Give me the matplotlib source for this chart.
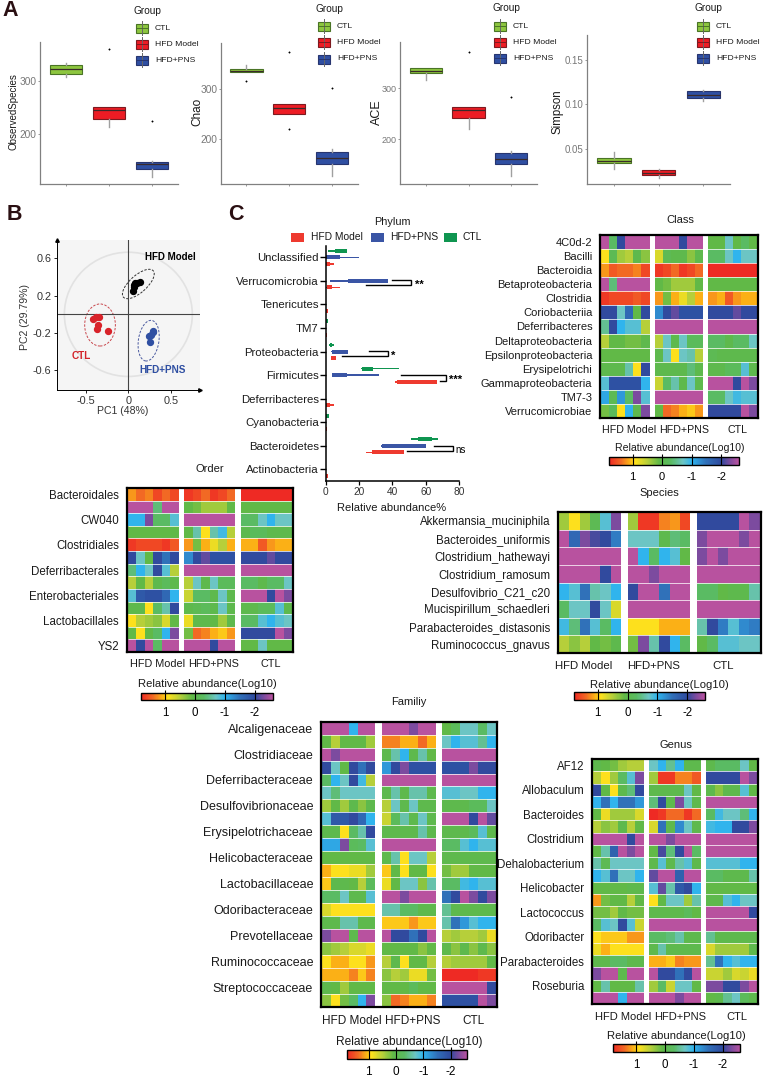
import numpy as np
import matplotlib
matplotlib.use('Agg')
import matplotlib.pyplot as plt
from matplotlib.cm import ScalarMappable
from matplotlib.colors import LinearSegmentedColormap, Normalize
from matplotlib.patches import Ellipse, Rectangle

plt.rcParams['font.family'] = ['Liberation Sans', 'DejaVu Sans']
plt.rcParams['axes.unicode_minus'] = False

W, H = 765, 1080
groups = ['CTL', 'HFD Model', 'HFD+PNS']

# Panel A: box statistics, order CTL / HFD Model / HFD+PNS
obs_q1 = [312, 229, 135]
obs_med = [321, 245, 145]
obs_q3 = [329, 251, 148]
obs_lo = [306, 214, 120]
obs_hi = [332, 251, 150]
obs_out = [[], [359], [224]]

chao_q1 = [332, 251, 151]
chao_med = [335, 261, 163]
chao_q3 = [338, 269, 176]
chao_lo = [332, 251, 128]
chao_hi = [346, 269, 181]
chao_out = [[315], [372, 220], [302]]

ace_q1 = [330, 241, 151]
ace_med = [335, 257, 161]
ace_q3 = [340, 263, 173]
ace_lo = [317, 221, 127]
ace_hi = [340, 263, 176]
ace_out = [[], [372], [282]]

simp_q1 = [0.0344, 0.021, 0.1076]
simp_med = [0.0374, 0.024, 0.111]
simp_q3 = [0.0407, 0.027, 0.1147]
simp_lo = [0.0284, 0.0184, 0.1035]
simp_hi = [0.0474, 0.0284, 0.1165]
simp_out = [[], [], []]

# Panel B: PCA scores
pc_model_x = [0.05, 0.07, 0.08, 0.137, 0.098, 0.066]
pc_model_y = [0.254, 0.289, 0.332, 0.343, 0.332, 0.314]
pc_ctl_x = [-0.41, -0.34, -0.38, -0.35, -0.37, -0.234]
pc_ctl_y = [-0.05, -0.025, -0.032, -0.114, -0.16, -0.18]
pc_pns_x = [0.285, 0.262, 0.242, 0.25, 0.293]
pc_pns_y = [-0.186, -0.221, -0.232, -0.30, -0.175]

# Panel C: phylum ranges (min, max, dense part min, dense part max)
phyla = ['Unclassified', 'Verrucomicrobia', 'Tenericutes', 'TM7', 'Proteobacteria',
         'Firmicutes', 'Deferribacteres', 'Cyanobacteria', 'Bacteroidetes', 'Actinobacteria']
phy_ctl = [(1.2, 13, 5.6, 13), (0, 0.2, 0, 0.2), (0, 0.2, 0, 0.2), (0, 1.2, 0, 1.2), (2, 5, 2.4, 4),
           (21, 43.8, 21.6, 28.6), (0, 0.2, 0, 0.2), (0, 2.2, 0, 2.2), (51.2, 67.2, 55.6, 63.6), (0, 0.2, 0, 0.2)]
phy_pns = [(0, 20, 0, 8.6), (2.6, 37.6, 13.6, 37.6), (0, 0.2, 0, 0.2), (0, 0.2, 0, 0.2), (3.2, 13.2, 3.6, 13.2),
           (3.6, 32.2, 4, 12.6), (0, 0.2, 0, 0.2), (0, 0.2, 0, 0.2), (33.2, 60.4, 33.6, 60.4), (0, 0.2, 0, 0.2)]
phy_model = [(0, 5, 0, 2.6), (0, 8.4, 0.6, 3.6), (0, 1.2, 0, 1.2), (0, 1, 0, 1), (3, 6.2, 3.2, 6),
             (41.8, 66.8, 42.6, 66.6), (0, 5.2, 0, 2.6), (0, 1, 0, 1), (24, 47.2, 27.6, 47.2), (0, 1.2, 0, 1.2)]

# Heatmaps: log10 relative abundance x10, 6 samples per group
class_labels = ['4C0d-2', 'Bacilli', 'Bacteroidia', 'Betaproteobacteria', 'Clostridia', 'Coriobacteriia',
                'Deferribacteres', 'Deltaproteobacteria', 'Epsilonproteobacteria', 'Erysipelotrichi',
                'Gammaproteobacteria', 'TM7-3', 'Verrucomicrobiae']
class_vals = [
    [-26, -3, -20, -26, -26, -26, -26, -26, -26, -20, -26, -26, 1, 1, -7, 1, -3, 1],
    [9, -1, 4, 5, 0, 3, 7, -1, 0, 0, 3, 0, -3, -3, -7, -10, -7, -7],
    [12, 15, 14, 14, 13, 16, 17, 16, 14, 17, 16, 14, 18, 18, 18, 18, 18, 18],
    [-26, -4, -26, -26, -26, -26, 1, 2, 4, 4, 4, 1, 1, 1, 1, 1, 1, 1],
    [17, 16, 16, 16, 15, 16, 12, 2, 11, 8, 5, 11, 12, 11, 15, 12, 11, 11],
    [-20, -20, -7, -16, 1, -20, -13, -20, -22, -19, -19, -19, -20, -20, -20, -22, -20, -20],
    [-5, -20, -10, -8, -8, 5, -26, -26, -26, -26, -26, -26, -26, -26, -26, -26, -26, -26],
    [5, 1, 1, 2, 2, 0, 5, -7, 0, -7, -2, -2, -3, -3, 0, -3, -3, -7],
    [1, 1, 1, 1, 1, 1, 0, -7, 9, -7, -6, 5, -1, 0, 0, 0, 0, 0],
    [0, 0, 0, -6, 9, -20, 0, 0, 0, 0, -4, 0, 0, 0, -2, -2, -8, 0],
    [-8, -19, -19, -19, -19, -10, 6, -3, -6, 0, -7, 0, -26, -26, -26, -20, -26, -23],
    [-11, -1, -12, -3, -23, -8, -26, -26, -26, -26, -26, -26, -3, -3, -7, -9, -8, -8],
    [2, -2, 9, -10, 0, -23, 1, 14, 13, 11, 10, 12, -20, -20, -20, -20, -26, -23],
]

order_labels = ['Bacteroidales', 'CW040', 'Clostridiales', 'Deferribacterales',
                'Enterobacteriales', 'Lactobacillales', 'YS2']
order_vals = [
    [12, 14, 13, 16, 14, 16, 17, 16, 14, 17, 16, 14, 18, 18, 18, 18, 18, 18],
    [-26, -26, -26, -4, -26, -26, 1, 2, 4, 4, 4, 1, 1, 1, 1, 1, 1, 1],
    [-10, -10, -23, -3, -3, -8, -26, -26, -26, -26, -26, -26, -3, -3, -7, -10, -7, -7],
    [1, 1, 1, 1, 1, 1, 1, -6, 9, -6, -9, 5, 0, -2, -2, 0, 0, 0],
    [17, 16, 16, 16, 17, 15, 12, 2, 11, 8, 5, 11, 11, 11, 15, 12, 11, 11],
    [-20, -7, 1, -20, -15, -20, -13, -20, -22, -19, -19, -19, -20, -20, -20, -22, -20, -20],
    [-4, -10, -7, -20, -8, 5, -26, -26, -26, -26, -26, -26, -26, -26, -26, -26, -26, -26],
    [5, 1, 5, 0, -2, 0, 5, -7, 0, -7, -2, -2, -3, -3, 0, -3, -3, -7],
    [-8, -18, -19, -19, -16, -10, 6, -3, -3, 0, -7, 0, -26, -26, -26, -20, -26, -23],
    [0, 0, 9, -3, -6, -20, 0, -1, -2, 0, -7, 0, 0, 0, -2, -2, -8, 0],
    [9, 5, 4, 3, 7, 1, 8, 0, 0, 1, 4, 0, -3, -3, -8, -10, -8, -7],
    [1, 9, 1, -3, -10, -23, 2, 14, 13, 11, 10, 12, -20, -20, -20, -20, -26, -23],
    [-26, -20, -26, -3, -26, -26, -26, -26, -26, -20, -26, -26, 1, 1, -7, 1, 1, 1],
]

species_labels = ['Akkermansia_muciniphila', 'Bacteroides_uniformis', 'Clostridium_hathewayi', 'Clostridium_ramosum',
                  'Desulfovibrio_C21_c20', 'Mucispirillum_schaedleri', 'Parabacteroides_distasonis',
                  'Ruminococcus_gnavus']
species_vals = [
    [4, 9, 4, -1, -8, -23, 4, 17, 17, 13, 12, 16, -20, -20, -20, -20, -26, -23],
    [-26, -16, -23, -21, -20, -14, -7, -7, -7, 0, -4, -3, -23, -26, -26, -26, -23, -26],
    [-26, -26, -26, -26, -26, -26, -26, -10, -3, -10, -8, 1, -23, -26, -23, -26, -26, -26],
    [-26, -26, -26, -26, -20, -26, -26, -26, -23, -26, -26, -26, -26, -26, -26, -26, -26, -26],
    [-10, -8, -15, -6, -7, -10, -20, -26, -26, -15, -26, -26, -3, -3, 1, 0, 0, -6],
    [-3, -7, -7, -20, -7, 7, -26, -26, -26, -26, -26, -26, -26, -26, -26, -26, -26, -26],
    [-9, -4, -15, -8, -3, -10, 9, 9, 9, 11, 11, 11, -6, -20, -14, -8, -13, -14],
    [5, 3, 5, 1, 2, 0, 2, -23, -6, -20, -10, -3, 1, -3, -8, -8, -7, -7],
]

family_labels = ['Alcaligenaceae', 'Clostridiaceae', 'Deferribacteraceae', 'Desulfovibrionaceae', 'Erysipelotrichaceae',
                 'Helicobacteraceae', 'Lactobacillaceae', 'Odoribacteraceae', 'Prevotellaceae', 'Ruminococcaceae',
                 'Streptococcaceae']
family_vals = [
    [-26, -26, -26, -10, -26, -26, -26, -26, -26, -23, -26, -26, 1, -2, -7, -7, -3, -7],
    [1, 5, 1, 1, 1, 4, 13, 13, 11, 11, 14, 11, -7, -10, -8, -8, -5, -10],
    [-26, -23, -26, -26, -26, -26, 0, -6, -10, 0, -6, 1, -26, -26, -26, -26, -26, -26],
    [-20, -7, 1, -20, -15, -20, -12, -20, -23, -19, -19, -19, -19, -19, -19, -23, -20, -20],
    [-3, -10, -7, -20, -9, 5, -26, -26, -26, -26, -26, -26, -26, -26, -26, -26, -26, -26],
    [-7, -4, -7, -7, -7, -7, 0, -6, 0, -6, -6, 0, -8, -8, -7, -7, -10, -10],
    [4, 1, 4, 0, 3, 0, 5, -7, 0, -7, 0, 0, 0, 0, 0, -2, -2, -7],
    [-8, -18, -18, -20, -16, -10, 6, -2, -6, 0, -7, 0, -26, -26, -26, -20, -26, -22],
    [0, 0, 9, -3, -6, -20, 0, 0, 0, 0, -6, 0, 0, 0, 0, -2, -8, 0],
    [-11, -11, -23, -2, -3, -8, -26, -26, -26, -26, -26, -26, -3, -3, -8, -10, -8, -8],
    [1, 1, 1, 1, 1, 1, 0, -6, 9, -7, -7, 5, 0, 0, 0, 0, 0, 0],
    [11, 9, 9, 8, 8, 4, 10, 1, 9, 1, 1, 9, 2, 4, 4, 1, 1, 1],
    [10, 0, 0, 1, 5, -2, 8, 1, -7, -7, 3, -6, -3, -3, -9, -10, -8, -8],
    [-3, -3, -7, 0, 0, -8, -26, -26, -23, -26, -26, -26, -15, -20, -26, -23, -20, -23],
    [7, 9, 9, 9, 9, 9, -6, -6, -3, -3, 0, 0, -5, 0, 0, 0, 0, 0],
    [0, 0, -6, -6, 0, 0, 10, 10, 10, 12, 10, 10, -6, -15, -12, -8, -10, -10],
    [-23, -26, -26, 0, -26, -26, -26, -20, -20, -15, -20, -26, 5, 4, 5, 5, 4, 8],
    [3, 4, 5, 7, 7, 8, 1, 1, 1, 1, 3, 1, 0, 3, 0, 3, 0, 3],
    [9, 11, 11, 9, 9, 12, 5, 0, 9, 1, 1, 5, 5, 4, 4, 4, 4, 1],
    [11, 11, 11, 13, 10, 13, 3, 5, 4, 8, 8, 2, 18, 18, 18, 18, 17, 17],
    [0, 1, 4, 1, 1, 1, 1, 1, 1, -2, 1, 1, -26, -26, -26, -26, -26, -20],
    [3, 9, 2, -3, -10, -23, 3, 14, 13, 11, 11, 13, -19, -19, -19, -19, -26, -23],
]

genus_labels = ['AF12', 'Allobaculum', 'Bacteroides', 'Clostridium', 'Dehalobacterium', 'Helicobacter',
                'Lactococcus', 'Odoribacter', 'Parabacteroides', 'Roseburia']
genus_vals = [
    [0, 1, 2, 4, 5, 5, -7, -10, -5, -10, 0, 0, 0, -3, -3, -3, -7, 1],
    [5, 9, 4, -3, -8, -23, 4, 17, 17, 13, 13, 15, -20, -20, -20, -20, -26, -23],
    [-20, 1, 9, 0, -4, -20, 0, 0, 0, 0, -7, 1, 0, 3, 0, 0, -8, 1],
    [-10, -15, -10, -15, -15, -12, -4, -20, 0, -23, -7, 0, -26, -26, -26, -26, -26, -26],
    [1, 8, 4, 4, 4, 7, 18, 17, 14, 14, 17, 14, -3, -9, -7, -7, -4, -10],
    [5, 3, 4, 0, 5, 1, 7, -15, 0, -13, -7, 0, -9, -10, -10, -20, -20, -23],
    [-26, -26, -26, -26, -20, -26, -26, -26, -23, -26, -26, -26, -26, -26, -26, -26, -26, -26],
    [1, -6, -17, -26, -23, -26, 1, -21, -4, -20, -26, -3, -26, -26, -26, -26, -26, -26],
    [-6, -1, -7, -7, -7, -7, 0, -8, 0, -6, -8, 0, -8, -8, -8, -8, -10, -10],
    [-10, -8, -15, -7, -7, -10, -22, -26, -26, -17, -26, -26, -3, -3, 0, 0, 0, -6],
    [1, 1, 1, 1, 0, 0, -8, -22, -6, -18, -20, -10, 1, 1, 1, 1, 1, 1],
    [12, 2, 1, 1, 5, 1, 9, 1, -7, -7, 4, -6, 0, 0, -8, -10, -7, -7],
    [2, 2, 4, 1, 2, 2, 0, 0, 0, 0, -2, 1, -26, -26, -26, -26, -26, -20],
    [-3, -8, -7, -20, -8, 6, -26, -26, -26, -26, -26, -26, -26, -26, -26, -26, -26, -26],
    [9, 10, 10, 10, 12, 12, -3, -3, -4, -6, 0, 0, -5, 0, 0, 0, 0, 0],
    [8, 11, 9, 9, 9, 9, 0, -6, 0, 0, 0, 0, 7, 4, 4, 4, 4, 0],
    [0, 0, -3, -3, 0, 0, 11, 11, 10, 13, 12, 12, -5, -15, -10, -8, -10, -10],
    [-23, -26, -26, 0, -26, -26, -26, -20, -20, -15, -20, -26, 6, 6, 4, 7, 6, 8],
    [1, -6, 1, 1, 1, -6, 4, -3, 6, -7, -7, 1, -23, -23, -20, -20, -23, -26],
    [-26, -26, -26, -10, -26, -26, -26, -26, -26, -23, -26, -26, 1, 0, -5, -7, -2, 0],
]

# colour scale
cmap_vals = [-2.6, -2.3, -2.0, -1.5, -1.0, -0.7, -0.3, 0.1, 0.5, 0.9, 1.1, 1.4, 1.8]
cmap_cols = ['#b8529f', '#7b4b9f', '#2e4a9e', '#3070b9', '#2fb4ee', '#6cc5c4', '#5abb62',
             '#5fb947', '#b5cf3a', '#fde11d', '#fbb216', '#f26a24', '#ee2a24']
norm = Normalize(-2.6, 1.8)
heat_cmap = LinearSegmentedColormap.from_list(
    'abund', [((v + 2.6) / 4.4, c) for v, c in zip(cmap_vals, cmap_cols)])

fig = plt.figure(figsize=(W / 100, H / 100), dpi=100, facecolor='white')


def px_axes(x0, y0, x1, y1):
    return fig.add_axes([x0 / W, 1 - y1 / H, (x1 - x0) / W, (y1 - y0) / H])


# overlay in pixel coordinates for free text and keys
ov = fig.add_axes([0, 0, 1, 1], zorder=10)
ov.set_xlim(0, W)
ov.set_ylim(H, 0)
ov.axis('off')
ov.patch.set_alpha(0)


def label(x, y, s, size=8, **kw):
    kw.setdefault('ha', 'center')
    kw.setdefault('color', '#1a1a1a')
    ov.text(x, y, s, fontsize=size, va='center', **kw)


for x, y, s in [(10, 11, 'A'), (14, 214, 'B'), (236, 214, 'C')]:
    ov.text(x, y, s, fontsize=15.5, fontweight='bold', ha='center', va='center', color='#2a0f12')

# ---- Panel A
box_cols = ['#8dc63f', '#ed1c24', '#2f4fa2']
box_edge = ['#4a7426', '#7d1a20', '#27356f']


def box_panel(rect, q1, med, q3, lo, hi, out, ylim, ticks, ticklabels, ylab, lab_x, lab_size, tick_size):
    ax = px_axes(*rect)
    stats = []
    for i in range(3):
        stats.append({'q1': q1[i], 'med': med[i], 'q3': q3[i], 'whislo': lo[i], 'whishi': hi[i],
                      'fliers': out[i], 'label': groups[i]})
    res = ax.bxp(stats, positions=[1, 2, 3], widths=0.75, patch_artist=True, showcaps=False,
                 whiskerprops={'color': '#a0a0a0', 'lw': 1},
                 medianprops={'color': '#3a2a2a', 'lw': 0.9},
                 flierprops={'marker': 'o', 'ms': 1, 'mfc': 'k', 'mec': 'k', 'mew': 0.3})
    for b, c, e in zip(res['boxes'], box_cols, box_edge):
        b.set_facecolor(c)
        b.set_edgecolor(e)
        b.set_linewidth(0.8)
    ax.set_xlim(0.4, 3.6)
    ax.set_ylim(*ylim)
    ax.set_xticks([1, 2, 3], ['', '', ''])
    ax.set_yticks(ticks, ticklabels)
    ax.tick_params(axis='both', length=1.5, width=0.6, color='#888888')
    ax.tick_params(axis='y', labelsize=tick_size, labelcolor='#777777', pad=1)
    for s in ['top', 'right']:
        ax.spines[s].set_visible(False)
    for s in ['left', 'bottom']:
        ax.spines[s].set_color('#808080')
        ax.spines[s].set_linewidth(0.9)
    label(lab_x, 112, ylab, lab_size, rotation=90)


box_panel((40, 42, 178, 184), obs_q1, obs_med, obs_q3, obs_lo, obs_hi, obs_out,
          (107, 372), [200, 300], ['200', '300'], 'ObservedSpecies', 14, 7, 7.3)
box_panel((220.7, 43, 358, 184), chao_q1, chao_med, chao_q3, chao_lo, chao_hi, chao_out,
          (112, 390), [200, 300], ['200', '300'], 'Chao', 197, 8.5, 7.3)
box_panel((400, 42, 537, 184), ace_q1, ace_med, ace_q3, ace_lo, ace_hi, ace_out,
          (112, 391), [200, 300], ['200', '300'], 'ACE', 377, 9, 6.5)
box_panel((587.3, 35, 730, 184), simp_q1, simp_med, simp_q3, simp_lo, simp_hi, simp_out,
          (0.0112, 0.1775), [0.05, 0.10, 0.15], ['0.05', '0.10', '0.15'], 'Simpson', 558, 8.3, 7)

# legends of panel A
for gx, gy, kx, tx, rows in [(134, 11, 136, 155, [28, 44, 60]), (316, 9, 318, 337, [26, 42, 59]),
                             (493, 8, 494, 513, [26, 42, 58]), (695, 8, 697, 716, [26, 42, 58])]:
    label(gx, gy, 'Group', 7.3, ha='left')
    for yy, name, c, e in zip(rows, groups, box_cols, box_edge):
        ov.plot([kx + 6, kx + 6], [yy - 7, yy + 7], color='#666666', lw=0.7)
        ov.add_patch(Rectangle((kx, yy - 4.5), 12.5, 9, fc=c, ec=e, lw=0.8))
        ov.plot([kx, kx + 12.5], [yy, yy], color=e, lw=0.7)
        label(tx, yy, name, 6.1, ha='left')

# ---- Panel B
ax = px_axes(56.7, 240, 200, 390)
ax.set_facecolor('#f5f5f5')
ax.set_xlim(-0.84, 0.84)
ax.set_ylim(-0.81, 0.796)
ax.add_patch(Ellipse((0, 0), 1.5, 1.33, fc='none', ec='#e2e2e2', lw=1.2))
ax.axhline(0, color='#444444', lw=0.8)
ax.axvline(0, color='#444444', lw=0.8)
ax.add_patch(Ellipse((0.117, 0.325), 0.45, 0.19, angle=38, fc='none', ec='#333333', lw=0.7, ls=(0, (2.5, 1.5))))
ax.add_patch(Ellipse((-0.332, -0.114), 0.36, 0.45, fc='none', ec='#c8474d', lw=0.7, ls=(0, (2.5, 1.5))))
ax.add_patch(Ellipse((0.238, -0.282), 0.24, 0.44, angle=-10, fc='none', ec='#4a5aa0', lw=0.7, ls=(0, (2.5, 1.5))))
ax.scatter(pc_model_x, pc_model_y, s=18, color='black', zorder=3)
ax.scatter(pc_ctl_x, pc_ctl_y, s=18, color='#d8232a', zorder=3)
ax.scatter(pc_pns_x, pc_pns_y, s=18, color='#2f4fa2', zorder=3)
ax.set_xticks([-0.5, 0, 0.5], ['-0.5', '0', '0.5'])
ax.set_yticks([-0.6, -0.2, 0.2, 0.6], ['-0.6', '-0.2', '0.2', '0.6'])
ax.tick_params(labelsize=7.8, length=2, width=0.6, labelcolor='#333333', pad=2)
for s in ['top', 'right']:
    ax.spines[s].set_visible(False)
for s in ['left', 'bottom']:
    ax.spines[s].set_linewidth(0.7)
ax.plot(0, 1, '^k', ms=2.5, transform=ax.transAxes, clip_on=False)
ax.plot(1, 0, '>k', ms=2.5, transform=ax.transAxes, clip_on=False)
label(123, 411, 'PC1 (48%)', 7.6, color='#333333')
label(25, 317, 'PC2 (29.79%)', 7.6, color='#333333', rotation=90)
label(170, 257, 'HFD Model', 7, color='black', fontweight='bold')
label(81, 356, 'CTL', 7.2, color='#d2232a', fontweight='bold')
label(163, 370, 'HFD+PNS', 7.2, color='#2f4fa2', fontweight='bold')

# ---- Panel C
ax = px_axes(325.7, 246, 459, 480.7)
ax.patch.set_alpha(0)
ypos = np.arange(len(phyla))
ax.set_xlim(0, 80)
ax.set_ylim(9 + (827 - 793) / 70.7, (122 - 156) / 70.7)
phy_cols = ['#0f9550', '#3a55a5', '#ee3a2f']
for rows, off, c in zip([phy_ctl, phy_pns, phy_model], [-0.28, 0, 0.28], phy_cols):
    rows = np.array(rows)
    ax.barh(ypos + off, rows[:, 1] - rows[:, 0], left=rows[:, 0], height=0.07, color=c, lw=0)
    ax.barh(ypos + off, rows[:, 3] - rows[:, 2], left=rows[:, 2], height=0.17, color=c, lw=0)
ax.set_yticks(ypos, phyla)
ax.set_xticks([0, 20, 40, 60, 80])
ax.tick_params(axis='y', labelsize=8.2, length=4, width=1, pad=1, labelcolor='#1a1a1a')
ax.tick_params(axis='x', labelsize=7.3, length=3, width=0.9, pad=1.5, labelcolor='#333333')
for s in ['top', 'right']:
    ax.spines[s].set_visible(False)
for s in ['left', 'bottom']:
    ax.spines[s].set_linewidth(1.1)

# significance brackets (x value, category position)
for xs, ys, txt, tx, ty in [
    ([39.5, 51, 51, 24], [0.96, 0.96, 1.19, 1.19], '**', 56, 1.12),
    ([26, 37.5, 37.5, 10], [3.99, 3.99, 4.2, 4.2], '*', 40.5, 4.14),
    ([45, 72.2, 72.2, 68.6], [5.0, 5.0, 5.24, 5.24], '***', 78, 5.15),
    ([65, 76.4, 76.4, 49], [7.99, 7.99, 8.24, 8.24], 'ns', 81, 8.16),
]:
    ax.plot(xs, ys, color='black', lw=1, clip_on=False, solid_joinstyle='miter')
    if txt == 'ns':
        ax.text(tx, ty, txt, fontsize=7, ha='center', va='center', clip_on=False)
    else:
        ax.text(tx, ty + 0.03, txt, fontsize=8, fontweight='bold', ha='center', va='center', clip_on=False)

label(392, 222, 'Phylum', 7.8)
label(392, 508, 'Relative abundance%', 8)
for px, tx, c, s in [(291, 311, '#ee3a2f', 'HFD Model'), (371, 390, '#3a55a5', 'HFD+PNS'), (444, 463, '#0f9550', 'CTL')]:
    ov.add_patch(Rectangle((px, 232.5), 13, 9, fc=c, ec='none'))
    label(tx, 237, s, 7.4, ha='left')


# ---- Heatmaps
def heat(rect, vals, labels, step, gap, row_size, title, title_xy, grp_y, grp_x, grp_size,
         bar_rect, bar_title_xy, bar_title_size, tick_size):
    vals = np.array(vals) / 10
    n = len(vals)
    ax = px_axes(*rect)
    yy = np.arange(n + 1)
    for k in range(3):
        xx = np.arange(7) + k * (6 + gap)
        ax.pcolormesh(xx, yy, vals[:, 6 * k:6 * k + 6], cmap=heat_cmap, norm=norm, lw=0)
    ax.hlines(np.arange(1, n), 0, 18 + 2 * gap, color='white', lw=0.7, alpha=0.75)
    ax.set_xlim(-0.1, 18 + 2 * gap + 0.1)
    ax.set_ylim(n, 0)
    ax.set_xticks([])
    ax.set_yticks(np.arange(0, n, step) + 0.5, labels)
    ax.tick_params(axis='y', length=0, labelsize=row_size, pad=5.5, labelcolor='#1a1a1a')
    for s in ax.spines.values():
        s.set_linewidth(1.6)
    label(title_xy[0], title_xy[1], title, 8)
    for x, s in zip(grp_x, ['HFD Model', 'HFD+PNS', 'CTL']):
        label(x, grp_y, s, grp_size)
    cax = px_axes(*bar_rect)
    cb = fig.colorbar(ScalarMappable(norm=norm, cmap=heat_cmap), cax=cax, orientation='horizontal')
    cax.invert_xaxis()
    cb.set_ticks([1, 0, -1, -2], labels=['1', '0', '-1', '-2'])
    cb.ax.tick_params(direction='in', length=bar_rect[3] - bar_rect[1], width=0.8, color='black',
                      labelsize=tick_size, pad=5)
    cb.outline.set_linewidth(1)
    label(bar_title_xy[0], bar_title_xy[1], 'Relative abundance(Log10)', bar_title_size)


heat((600, 235, 758, 418), class_vals, class_labels, 1, 0.62, 8, 'Class', (680, 220), 430, (629, 684, 738), 7.7,
     (609, 457, 739, 465), (680, 448), 7.6, 8)
heat((126.7, 488, 293, 652), order_vals, order_labels, 2, 0.66, 8.3, 'Order', (210, 469), 664, (158, 214, 271), 7.8,
     (141, 693, 273, 700), (207, 684), 8.1, 8.3)
heat((557.7, 512, 760.7, 653), species_vals, species_labels, 1, 0.63, 8.3, 'Species', (659, 493), 666, (584, 654, 723), 8.2,
     (574, 692, 705, 700), (659, 685), 8.1, 8.3)
heat((320.7, 721.7, 496.7, 1006.7), family_vals, family_labels, 2, 0.7, 9, 'Familiy', (409, 702), 1021, (352, 413, 473), 8.5,
     (347, 1050, 467, 1059), (409, 1042), 8.6, 8.5)
heat((592, 759, 758, 1004), genus_vals, genus_labels, 2, 0.66, 8.3, 'Genus', (676, 745), 1017, (623, 680, 737), 8,
     (613, 1044, 740, 1052), (676, 1036), 8.1, 8.3)

fig.savefig('out.png', dpi=100, facecolor='white')
